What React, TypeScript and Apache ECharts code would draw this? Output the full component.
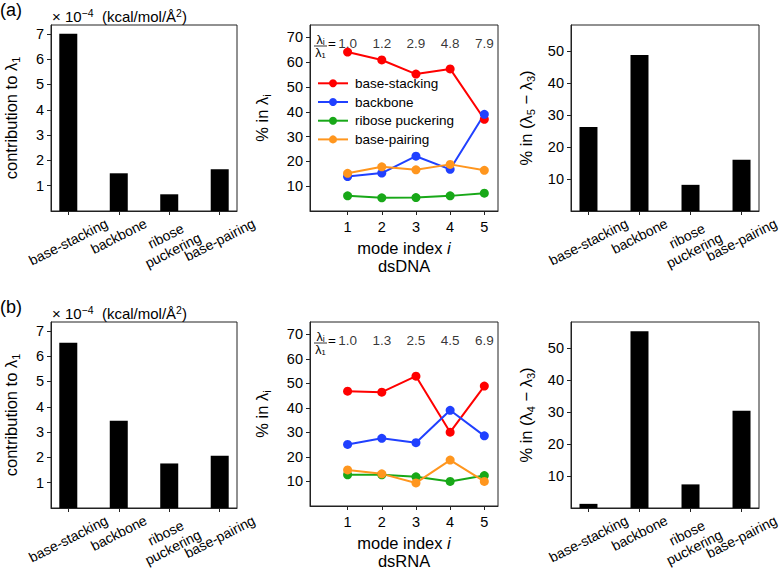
import React, { useEffect, useRef } from "react";
import * as echarts from "echarts";

const components = ["base-stacking", "backbone", "ribose\npuckering", "base-pairing"];
const compPos = [0, 1, 2, 3];
const dnaContribution = [7.0, 1.49, 0.66, 1.65];
const rnaContribution = [6.53, 3.45, 1.76, 2.06];
const dnaGapShare = [26.3, 48.9, 8.2, 16.1];
const rnaGapShare = [1.3, 55.4, 7.4, 30.5];

const modeIndex = [1, 2, 3, 4, 5];
const seriesNames = ["base-stacking", "backbone", "ribose puckering", "base-pairing"];
const seriesColors = ["#ff0000", "#2040ff", "#18a818", "#ff961e"];
const dnaStacking = [64.1, 60.9, 55.2, 57.3, 37.0];
const dnaBackbone = [13.9, 15.3, 22.1, 16.8, 39.0];
const dnaPucker = [6.1, 5.3, 5.4, 6.1, 7.2];
const dnaPairing = [15.2, 17.8, 16.6, 18.8, 16.4];
const rnaStacking = [46.8, 46.4, 52.9, 30.1, 48.9];
const rnaBackbone = [25.1, 27.6, 25.8, 39.0, 28.6];
const rnaPucker = [12.7, 12.7, 11.9, 10.0, 12.4];
const rnaPairing = [14.7, 13.1, 9.4, 18.7, 10.0];
const dnaRatios = ["1.0", "1.2", "2.9", "4.8", "7.9"];
const rnaRatios = ["1.0", "1.3", "2.5", "4.5", "6.9"];
const ratioLevel = 67.5;

const contribTicks = [1, 2, 3, 4, 5, 6, 7];
const pctTicks = [10, 20, 30, 40, 50, 60, 70];
const gapTicks = [10, 20, 30, 40, 50];

const FONT = "'Liberation Sans', Arial, Helvetica, sans-serif";
const AX = "#222";

const GRIDS = [
  { left: 49, top: 25 },
  { left: 310, top: 25 },
  { left: 571, top: 25 },
  { left: 49, top: 322 },
  { left: 310, top: 322 },
  { left: 571, top: 322 },
];
const GW = 188;
const GH = 186;

const richSub = {
  sub: { fontSize: 11, fontFamily: FONT, color: "#000", verticalAlign: "bottom", lineHeight: 12 },
  it: { fontSize: 16.5, fontFamily: FONT, color: "#000", fontStyle: "italic", lineHeight: 18 },
  n: { fontSize: 16.5, fontFamily: FONT, color: "#000", lineHeight: 18 },
};

function barX(g: number) {
  return {
    gridIndex: g,
    type: "value",
    min: -0.3425,
    max: 3.3425,
    axisLine: { show: true, onZero: false, lineStyle: { color: AX, width: 1 } },
    axisTick: { show: true, length: 4, customValues: compPos, lineStyle: { color: AX } },
    axisLabel: { show: false },
    splitLine: { show: false },
  };
}

function lineX(g: number, sample: string) {
  return {
    gridIndex: g,
    type: "value",
    min: -0.1,
    max: 5.4,
    axisLine: { show: true, onZero: false, lineStyle: { color: AX, width: 1 } },
    axisTick: { show: true, length: 4, customValues: modeIndex, lineStyle: { color: AX } },
    axisLabel: { customValues: modeIndex, fontSize: 14.5, color: "#000", margin: 8, fontFamily: FONT },
    splitLine: { show: false },
    name: "{n|mode index }{it|i}\n{n|" + sample + "}",
    nameLocation: "middle",
    nameGap: 28,
    nameTextStyle: { fontSize: 16.5, color: "#000", fontFamily: FONT, lineHeight: 18, rich: richSub },
  };
}

function yAx(g: number, max: number, ticks: number[], name: string, gap: number) {
  return {
    gridIndex: g,
    type: "value",
    min: 0,
    max,
    axisLine: { show: true, onZero: false, lineStyle: { color: AX, width: 1 } },
    axisTick: { show: true, length: 4, customValues: ticks, lineStyle: { color: AX } },
    axisLabel: { customValues: ticks, fontSize: 14.5, color: "#000", margin: 7, fontFamily: FONT },
    splitLine: { show: false },
    name,
    nameLocation: "middle",
    nameGap: gap,
    nameTextStyle: { fontSize: 16.5, color: "#000", fontFamily: FONT, lineHeight: 20, rich: richSub },
  };
}

function barSeries(g: number, vals: number[]) {
  return {
    type: "bar",
    xAxisIndex: g,
    yAxisIndex: g,
    barWidth: 18,
    itemStyle: { color: "#000" },
    data: compPos.map((x, k) => [x, vals[k]]),
    silent: true,
  };
}

function lineSeries(g: number, sets: number[][]) {
  return sets.map((vals, i) => ({
    type: "line",
    name: seriesNames[i],
    xAxisIndex: g,
    yAxisIndex: g,
    symbol: "circle",
    symbolSize: 9,
    showSymbol: true,
    lineStyle: { width: 2, color: seriesColors[i] },
    itemStyle: { color: seriesColors[i] },
    data: modeIndex.map((x, k) => [x, vals[k]]),
    silent: true,
  }));
}

function ratioSeries(g: number, ratios: string[]) {
  return {
    type: "scatter",
    xAxisIndex: g,
    yAxisIndex: g,
    symbolSize: 1,
    itemStyle: { color: "rgba(0,0,0,0)" },
    silent: true,
    label: {
      show: true,
      position: "inside",
      fontSize: 13.5,
      color: "#000",
      fontFamily: FONT,
      formatter: (p: any) => p.data[2],
    },
    data: modeIndex.map((x, k) => [x, ratioLevel, ratios[k]]),
  };
}

export default function App() {
  const ref = useRef<HTMLDivElement>(null);
  useEffect(() => {
    document.body.style.margin = "0";
    if (!ref.current) return;
    const chart = echarts.init(ref.current, null, { renderer: "svg" });
    const option: any = {
      animation: false,
      backgroundColor: "#fff",
      textStyle: { fontFamily: FONT },
      grid: GRIDS.map((g) => ({
        left: g.left,
        top: g.top,
        width: GW,
        height: GH,
        show: true,
        borderColor: AX,
        borderWidth: 1,
        backgroundColor: "transparent",
      })),
      xAxis: [barX(0), lineX(1, "dsDNA"), barX(2), barX(3), lineX(4, "dsRNA"), barX(5)],
      yAxis: [
        yAx(0, 7.35, contribTicks, "contribution to λ{sub|1}", 30),
        yAx(1, 75, pctTicks, "% in λ{sub|i}", 38),
        yAx(2, 58.3, gapTicks, "% in (λ{sub|5} − λ{sub|3})", 35),
        yAx(3, 7.35, contribTicks, "contribution to λ{sub|1}", 30),
        yAx(4, 75, pctTicks, "% in λ{sub|i}", 38),
        yAx(5, 58.3, gapTicks, "% in (λ{sub|4} − λ{sub|3})", 35),
      ],
      legend: {
        show: true,
        data: seriesNames,
        left: 317,
        top: 74.8,
        padding: 0,
        orient: "vertical",
        itemWidth: 30,
        itemHeight: 10,
        itemGap: 1.7,
        selectedMode: false,
        textStyle: { fontSize: 13.5, color: "#000", fontFamily: FONT, lineHeight: 17, padding: [0, 0, 0, 2] },
      },
      series: [
        barSeries(0, dnaContribution),
        ...lineSeries(1, [dnaStacking, dnaBackbone, dnaPucker, dnaPairing]),
        ratioSeries(1, dnaRatios),
        barSeries(2, dnaGapShare),
        barSeries(3, rnaContribution),
        ...lineSeries(4, [rnaStacking, rnaBackbone, rnaPucker, rnaPairing]),
        ratioSeries(4, rnaRatios),
        barSeries(5, rnaGapShare),
      ],
    };
    chart.setOption(option);

    // rotated category labels under bar panels (matplotlib-style: bbox centred on tick)
    const fs = 14;
    const lh = fs * 1.15;
    const canvas = document.createElement("canvas");
    const ctx = canvas.getContext("2d")!;
    ctx.font = `${fs}px ${FONT}`;
    const rot = (27 * Math.PI) / 180;
    const graphics: any[] = [];
    [0, 2, 3, 5].forEach((g) => {
      components.forEach((lab, k) => {
        const p = chart.convertToPixel({ gridIndex: g } as any, [compPos[k], 0]) as number[];
        const lines = lab.split("\n");
        const w = Math.max(...lines.map((l) => ctx.measureText(l).width));
        const h = w * Math.sin(rot) + lines.length * lh * Math.cos(rot);
        graphics.push({
          type: "text",
          x: p[0],
          y: p[1] + 4 + h / 2,
          rotation: rot,
          silent: true,
          style: {
            text: lab,
            fontSize: fs,
            fontFamily: FONT,
            fill: "#000",
            align: "center",
            verticalAlign: "middle",
            textAlign: "center",
            textVerticalAlign: "middle",
            lineHeight: lh,
          },
        });
      });
    });

    const richHead = {
      n: { fontSize: 15, fontFamily: FONT, fill: "#000", color: "#000", lineHeight: 18 },
      sup: { fontSize: 10.5, fontFamily: FONT, fill: "#000", color: "#000", verticalAlign: "top", lineHeight: 11 },
    };
    [
      { label: "(a)", gy: 0 },
      { label: "(b)", gy: 3 },
    ].forEach(({ label, gy }) => {
      const top = GRIDS[gy].top;
      graphics.push({
        type: "text",
        x: 0,
        y: top - 15,
        silent: true,
        style: { text: label, fontSize: 18, fontFamily: FONT, fill: "#000", align: "left", verticalAlign: "middle", textAlign: "left", textVerticalAlign: "middle" },
      });
      graphics.push({
        type: "text",
        x: 52,
        y: top - 9,
        silent: true,
        style: {
          text: "{n|× 10}{sup|−4}{n|  (kcal/mol/Å}{sup|2}{n|)}",
          rich: richHead,
          fontSize: 15,
          fontFamily: FONT,
          fill: "#000",
          align: "left",
          verticalAlign: "middle",
          textAlign: "left",
          textVerticalAlign: "middle",
        },
      });
    });

    [1, 4].forEach((g) => {
      const top = GRIDS[g].top;
      const cx = 320.5;
      graphics.push({
        type: "text",
        x: cx,
        y: top + 14.5,
        silent: true,
        style: { text: "λᵢ", fontSize: 12.5, fontFamily: FONT, fill: "#000", align: "center", verticalAlign: "middle", textAlign: "center", textVerticalAlign: "middle" },
      });
      graphics.push({
        type: "line",
        silent: true,
        shape: { x1: cx - 6.5, y1: top + 21, x2: cx + 6.5, y2: top + 21 },
        style: { stroke: "#000", lineWidth: 0.8 },
      });
      graphics.push({
        type: "text",
        x: cx,
        y: top + 27.5,
        silent: true,
        style: { text: "λ₁", fontSize: 12.5, fontFamily: FONT, fill: "#000", align: "center", verticalAlign: "middle", textAlign: "center", textVerticalAlign: "middle" },
      });
      graphics.push({
        type: "text",
        x: 332,
        y: top + 18.6,
        silent: true,
        style: { text: "=", fontSize: 13.5, fontFamily: FONT, fill: "#000", align: "center", verticalAlign: "middle", textAlign: "center", textVerticalAlign: "middle" },
      });
    });

    chart.setOption({ graphic: graphics });
    return () => chart.dispose();
  }, []);
  return <div ref={ref} style={{ width: 780, height: 571 }} />;
}
